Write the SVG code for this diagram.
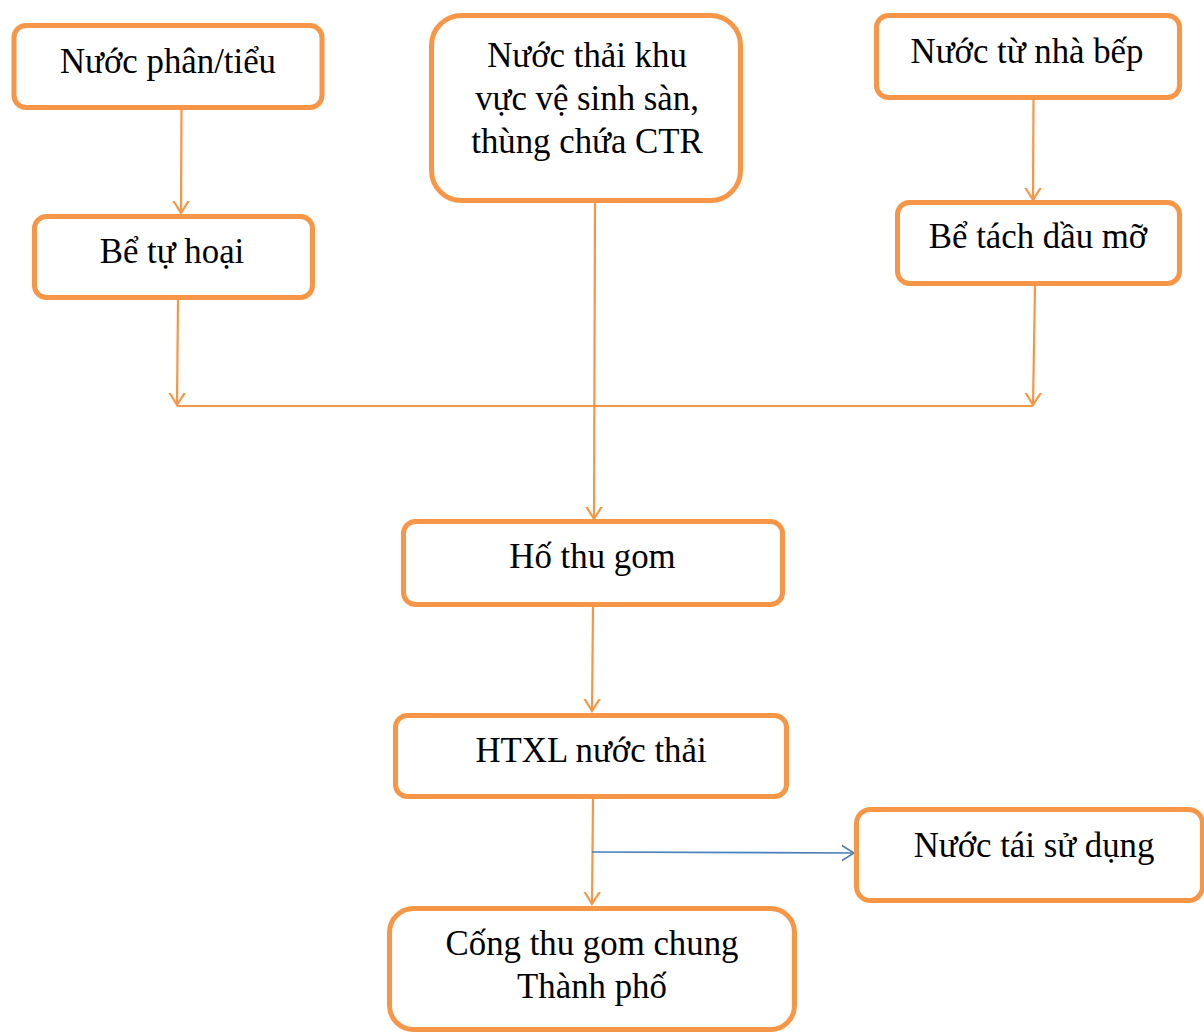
<svg xmlns="http://www.w3.org/2000/svg" width="1204" height="1032" viewBox="0 0 1204 1032">
  <style>
    .box { fill: #FFFFFF; stroke: #F79646; stroke-width: 5; }
    .lbl { font-family: "Liberation Serif", "Times New Roman", serif; font-size: 34.8px; fill: #000000; text-anchor: middle; }
    .flow { fill: none; stroke: #F79646; stroke-width: 2.2; }
    .side { fill: none; stroke: #4A7EBB; stroke-width: 1.6; }
  </style>
  <defs>
    <marker id="arrOrange" markerUnits="userSpaceOnUse" markerWidth="24" markerHeight="24" viewBox="-12 -12 24 24" refX="0" refY="0" orient="auto">
      <path d="M -16 -10 L 0 0 L -16 10" fill="none" stroke="#F79646" stroke-width="2.2"/>
    </marker>
    <marker id="arrBlue" markerUnits="userSpaceOnUse" markerWidth="24" markerHeight="24" viewBox="-12 -12 24 24" refX="0" refY="0" orient="auto">
      <path d="M -16 -10 L 0 0 L -16 10" fill="none" stroke="#4A7EBB" stroke-width="1.6"/>
    </marker>
  </defs>
  <rect width="1204" height="1032" fill="#FFFFFF"/>

  <g id="connectors">
    <path class="flow" d="M 181.5 110 L 181 213" marker-end="url(#arrOrange)"/>
    <path class="flow" d="M 1033.5 100 L 1033 200" marker-end="url(#arrOrange)"/>
    <path class="flow" d="M 178 300 L 177 405" marker-end="url(#arrOrange)"/>
    <path class="flow" d="M 1035 286 L 1033 405" marker-end="url(#arrOrange)"/>
    <path class="flow" d="M 177 406 L 1033 406"/>
    <path class="flow" d="M 595 203 L 594 519" marker-end="url(#arrOrange)"/>
    <path class="flow" d="M 593 607 L 592 711" marker-end="url(#arrOrange)"/>
    <path class="flow" d="M 593 799 L 592 904" marker-end="url(#arrOrange)"/>
    <path class="side" d="M 592 852 L 854 853" marker-end="url(#arrBlue)"/>
  </g>

  <g id="nuoc-phan-tieu">
    <rect class="box" x="14" y="25.5" width="308" height="82" rx="12"/>
    <text class="lbl" x="168" y="73">Nước phân/tiểu</text>
  </g>

  <g id="be-tu-hoai">
    <rect class="box" x="34.5" y="216.5" width="278" height="81" rx="12"/>
    <text class="lbl" x="172" y="263">Bể tự hoại</text>
  </g>

  <g id="nuoc-thai-ve-sinh">
    <rect class="box" x="431.5" y="15.5" width="309" height="185" rx="30"/>
    <text class="lbl" x="587" y="67">Nước thải khu</text>
    <text class="lbl" x="587" y="110">vực vệ sinh sàn,</text>
    <text class="lbl" x="587" y="153">thùng chứa CTR</text>
  </g>

  <g id="nuoc-nha-bep">
    <rect class="box" x="876.5" y="15.5" width="303" height="82" rx="12"/>
    <text class="lbl" x="1027" y="63">Nước từ nhà bếp</text>
  </g>

  <g id="be-tach-dau-mo">
    <rect class="box" x="897.5" y="202.5" width="282" height="81" rx="12"/>
    <text class="lbl" x="1038" y="248">Bể tách dầu mỡ</text>
  </g>

  <g id="ho-thu-gom">
    <rect class="box" x="403.5" y="521.5" width="379" height="83" rx="12"/>
    <text class="lbl" x="592.5" y="568">Hố thu gom</text>
  </g>

  <g id="htxl-nuoc-thai">
    <rect class="box" x="395.5" y="715.5" width="391" height="81" rx="12"/>
    <text class="lbl" x="591" y="762">HTXL nước thải</text>
  </g>

  <g id="nuoc-tai-su-dung">
    <rect class="box" x="856.5" y="809.5" width="346" height="91" rx="14"/>
    <text class="lbl" x="1034" y="857">Nước tái sử dụng</text>
  </g>

  <g id="cong-thu-gom-chung">
    <rect class="box" x="389.5" y="908.5" width="405" height="121" rx="24"/>
    <text class="lbl" x="592" y="955">Cống thu gom chung</text>
    <text class="lbl" x="592" y="998">Thành phố</text>
  </g>
</svg>
